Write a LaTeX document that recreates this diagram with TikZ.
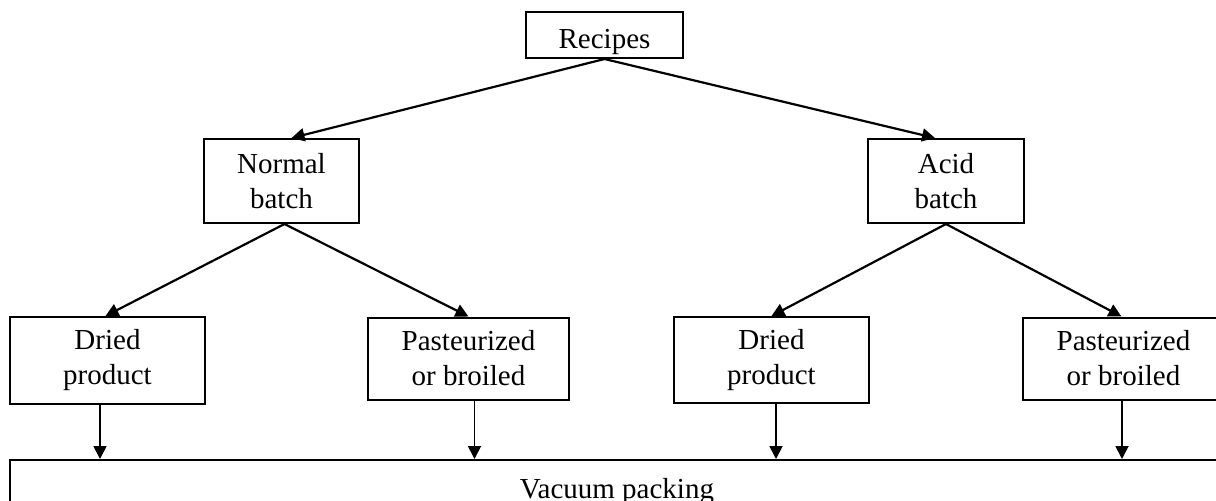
\documentclass[tikz,border=0pt]{standalone}
\usepackage{fontspec}
\setmainfont{Liberation Serif}
\usetikzlibrary{arrows.meta}

\begin{document}
\begin{tikzpicture}[
  x=0.5pt, y=-0.5pt,
  every node/.style={font=\fontsize{14.5}{17.5}\selectfont},
  box/.style={draw, line width=1pt, align=center, inner sep=0pt,
              minimum width=#1, anchor=center},
  arr/.style={-{Triangle[length=6.5pt,width=6.5pt]}, line width=1.1pt},
  varr/.style={-{Triangle[length=6.5pt,width=6.5pt]}, line width=0.9pt},
]
\useasboundingbox (0,0) rectangle (1216,500);
\clip (0,0) rectangle (1216,500);

% top level
\node[box=78.5pt, minimum height=23pt, text height=13pt, text depth=0pt]
  (rec) at (604.5,35) {Recipes};

% batch types
\node[box=77.5pt, minimum height=42pt] (nb) at (281.5,181) {Normal\\batch};
\node[box=78pt,   minimum height=42pt] (ab) at (946,181)   {Acid\\batch};

% product types
\node[box=97.5pt,  minimum height=43.5pt] (d1) at (107.5,360.5) {Dried\\product};
\node[box=100.5pt, minimum height=41pt]   (p1) at (468.5,358.5) {Pasteurized\\or broiled};
\node[box=97.5pt,  minimum height=43pt]   (d2) at (771.5,360)   {Dried\\product};
\node[box=100.5pt, minimum height=41pt]   (p2) at (1123.5,358.5) {Pasteurized\\or broiled};

% common final step
\node[draw, line width=1pt, inner sep=0pt, minimum width=607pt,
      text height=19pt, text depth=20pt, anchor=north]
  (vac) at (617,459) {Vacuum packing};

% connectors
\draw[arr] (rec.south) -- ([xshift=5pt]nb.north);
\draw[arr] (rec.south) -- ([xshift=-5.5pt]ab.north);

\draw[arr] ([xshift=1.5pt]nb.south) -- ([xshift=-1pt]d1.north);
\draw[arr] ([xshift=1.5pt]nb.south) -- (p1.north);
\draw[arr] (ab.south) -- (d2.north);
\draw[arr] (ab.south) -- ([xshift=-1pt]p2.north);

\draw[varr] ([xshift=-3.75pt]d1.south) -- ([xshift=-3.75pt]d1.south |- vac.north);
\draw[varr] ([xshift=3pt]p1.south)     -- ([xshift=3pt]p1.south |- vac.north);
\draw[varr] ([xshift=2.25pt]d2.south)  -- ([xshift=2.25pt]d2.south |- vac.north);
\draw[varr] ([xshift=-0.75pt]p2.south) -- ([xshift=-0.75pt]p2.south |- vac.north);
\end{tikzpicture}
\end{document}
